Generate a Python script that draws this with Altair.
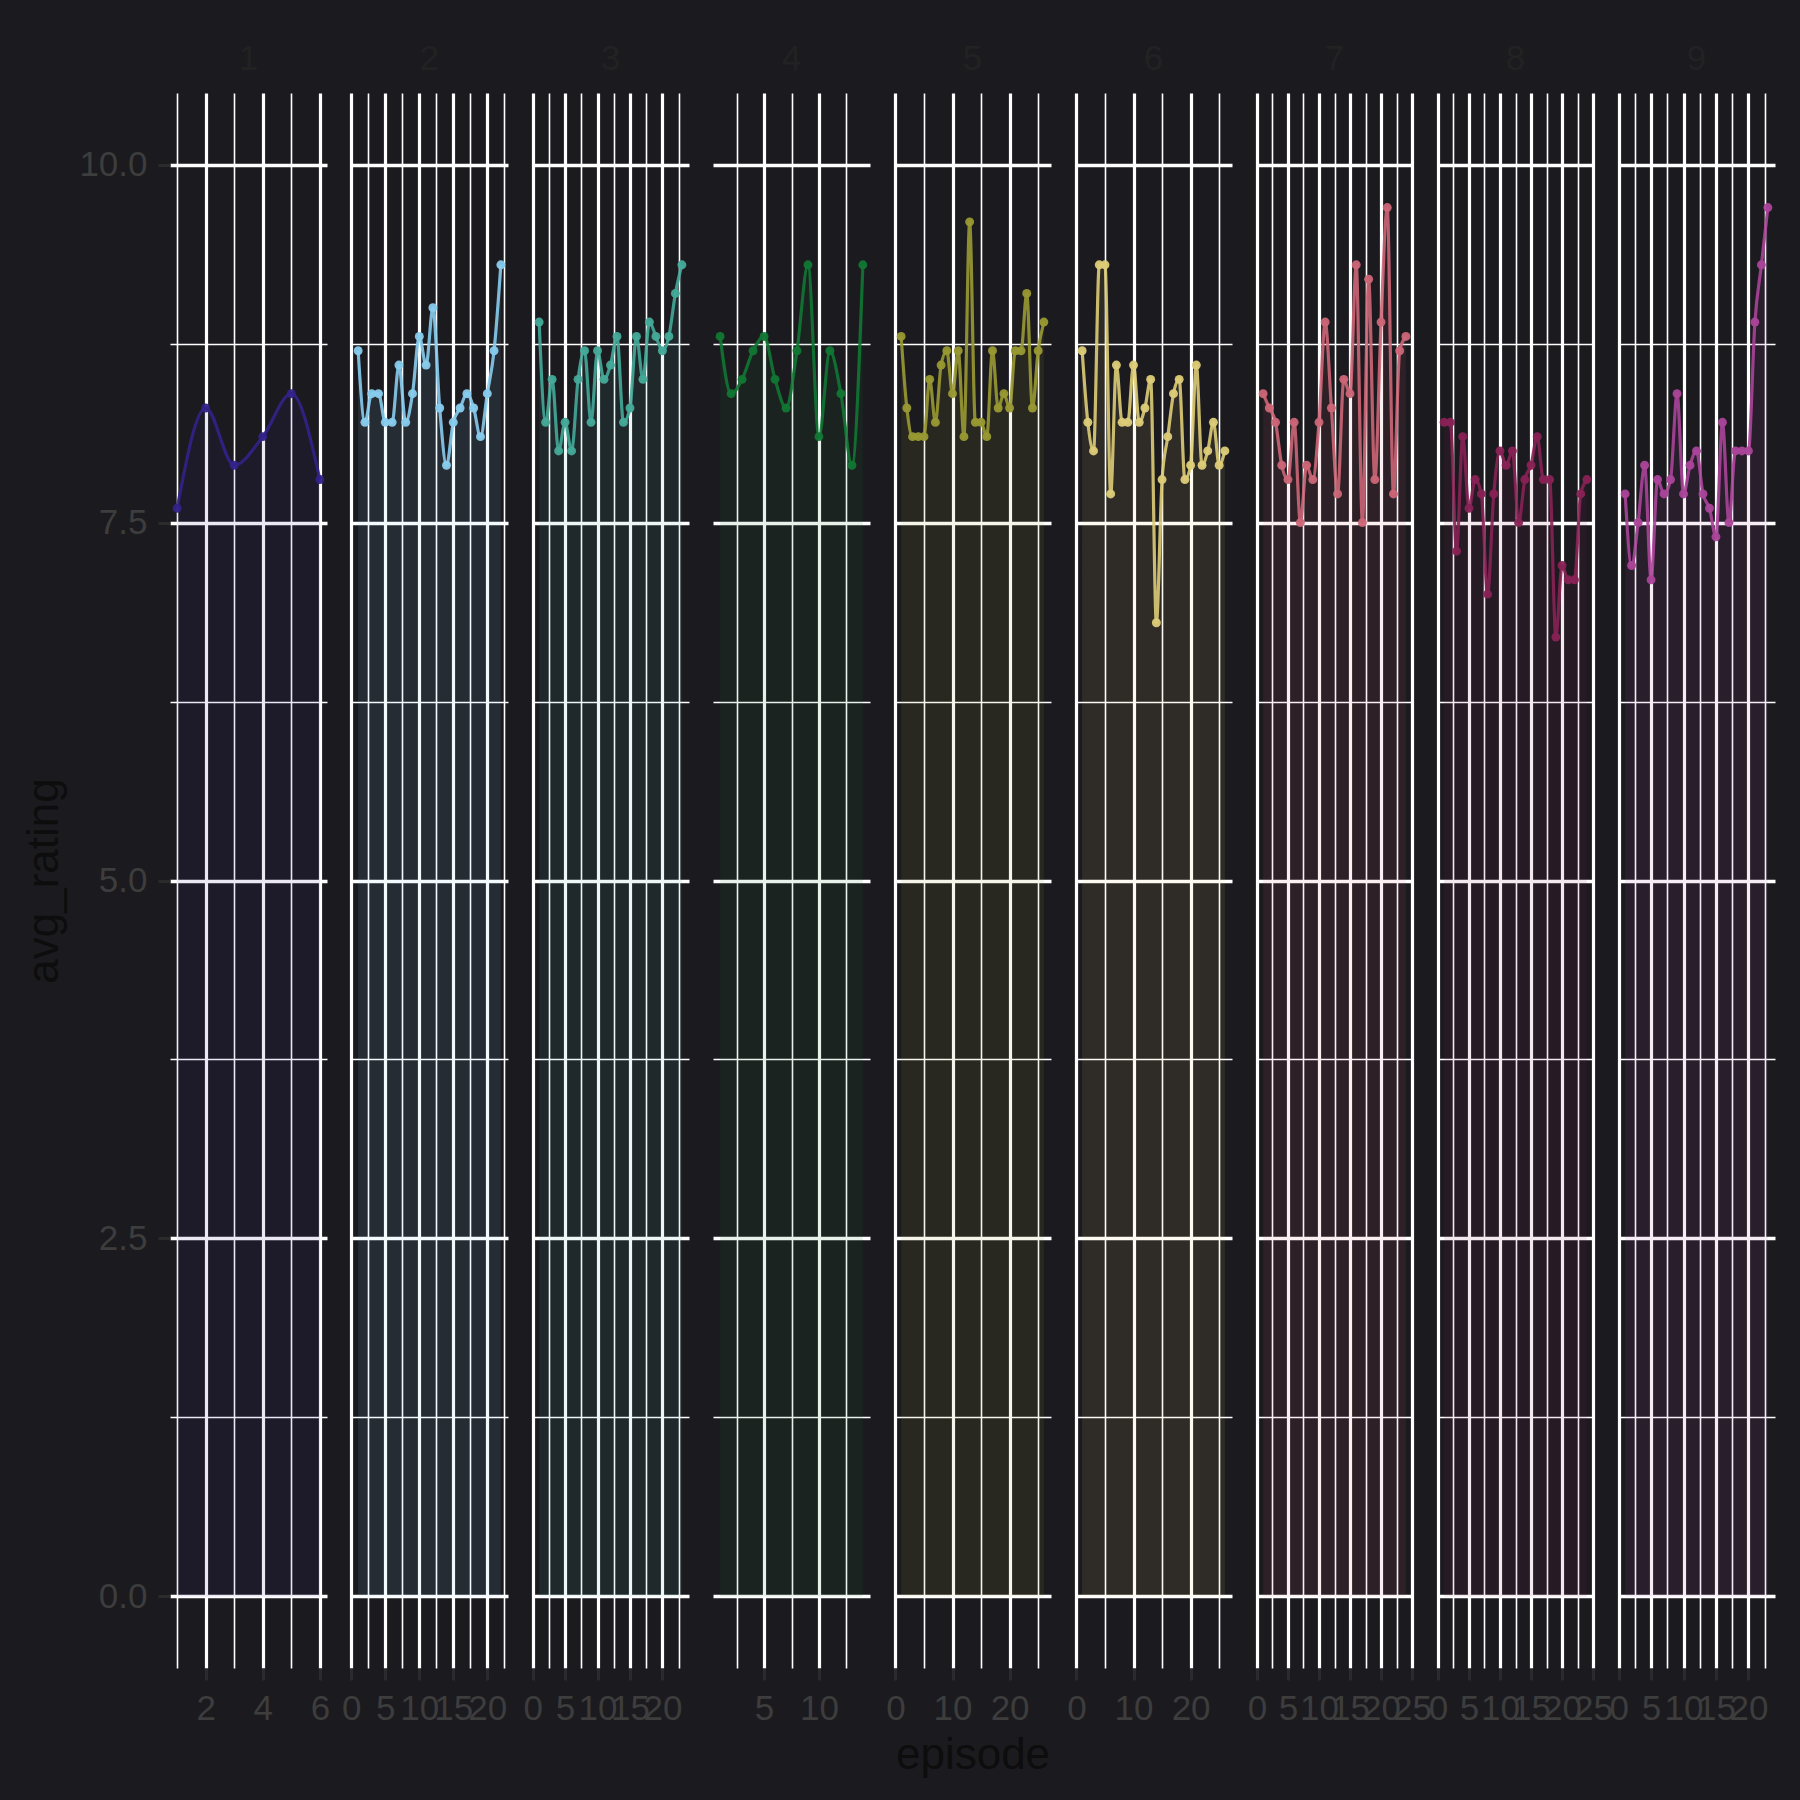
import altair as alt
import pandas as pd

# ---- data (The Office, average IMDb rating per episode, by season) ----
seasons = [1, 2, 3, 4, 5, 6, 7, 8, 9]
season_colors = ["#332288", "#88CCEE", "#44AA99", "#117733", "#999933",
                 "#DDCC77", "#CC6677", "#882255", "#AA4499"]

ratings_s1 = [7.6, 8.3, 7.9, 8.1, 8.4, 7.8]
ratings_s2 = [8.7, 8.2, 8.4, 8.4, 8.2, 8.2, 8.6, 8.2, 8.4, 8.8, 8.6, 9.0, 8.3, 7.9,
              8.2, 8.3, 8.4, 8.3, 8.1, 8.4, 8.7, 9.3]
ratings_s3 = [8.9, 8.2, 8.5, 8.0, 8.2, 8.0, 8.5, 8.7, 8.2, 8.7, 8.5, 8.6, 8.8, 8.2,
              8.3, 8.8, 8.5, 8.9, 8.8, 8.7, 8.8, 9.1, 9.3]
ratings_s4 = [8.8, 8.4, 8.5, 8.7, 8.8, 8.5, 8.3, 8.7, 9.3, 8.1, 8.7, 8.4, 7.9, 9.3]
ratings_s5 = [8.8, 8.3, 8.1, 8.1, 8.1, 8.5, 8.2, 8.6, 8.7, 8.4, 8.7, 8.1, 9.6, 8.2,
              8.2, 8.1, 8.7, 8.3, 8.4, 8.3, 8.7, 8.7, 9.1, 8.3, 8.7, 8.9]
ratings_s6 = [8.7, 8.2, 8.0, 9.3, 9.3, 7.7, 8.6, 8.2, 8.2, 8.6, 8.2, 8.3, 8.5, 6.8,
              7.8, 8.1, 8.4, 8.5, 7.8, 7.9, 8.6, 7.9, 8.0, 8.2, 7.9, 8.0]
ratings_s7 = [8.4, 8.3, 8.2, 7.9, 7.8, 8.2, 7.5, 7.9, 7.8, 8.2, 8.9, 8.3, 7.7, 8.5,
              8.4, 9.3, 7.5, 9.2, 7.8, 8.9, 9.7, 7.7, 8.7, 8.8]
ratings_s8 = [8.2, 8.2, 7.3, 8.1, 7.6, 7.8, 7.7, 7.0, 7.7, 8.0, 7.9, 8.0, 7.5, 7.8,
              7.9, 8.1, 7.8, 7.8, 6.7, 7.2, 7.1, 7.1, 7.7, 7.8]
ratings_s9 = [7.7, 7.2, 7.5, 7.9, 7.1, 7.8, 7.7, 7.8, 8.4, 7.7, 7.9, 8.0, 7.7, 7.6,
              7.4, 8.2, 7.5, 8.0, 8.0, 8.0, 8.9, 9.3, 9.7]

season_ratings = [ratings_s1, ratings_s2, ratings_s3, ratings_s4, ratings_s5,
                  ratings_s6, ratings_s7, ratings_s8, ratings_s9]
# major x-break step used by each panel's axis
x_major_steps = [2, 5, 5, 5, 10, 10, 5, 5, 5]

y_values = [0, 1.25, 2.5, 3.75, 5, 6.25, 7.5, 8.75, 10]

# ---- style ----
BG = "#1b1a1f"
FONT = "Liberation Sans"
GRID = "#ffffff"
TICK = "#2b2b2e"
LABEL = "#3d3d3d"
TITLE = "#0d0d0d"
STRIP = "#222222"
PANEL_W = 157
PANEL_H = 1575


def x_breaks(lo, hi, step):
    import math
    majors = [v for v in range(int(math.floor(lo / step)) * step, int(hi) + step + 1, step)
              if lo <= v <= hi]
    minors = []
    for m in majors:
        for c in (m - step / 2, m + step / 2):
            if lo <= c <= hi and c not in minors:
                minors.append(c)
    return sorted(majors + minors)


panels = []
for i, (season, color, vals, step) in enumerate(zip(seasons, season_colors,
                                                    season_ratings, x_major_steps)):
    n = len(vals)
    df = pd.DataFrame({"episode": list(range(1, n + 1)), "avg_rating": vals})
    pad = 0.05 * (n - 1)
    lo, hi = 1 - pad, n + pad
    major_test = f"datum.value % {step} === 0"
    x_axis = alt.Axis(
        values=x_breaks(lo, hi, step),
        format="d",
        labelExpr=f"{major_test} ? datum.label : ''",
        labelOverlap=False,
        labelFlush=False,
        labelFont=FONT, labelFontSize=35, labelColor=LABEL, labelPadding=11,
        tickSize=12, tickWidth=3, tickColor=TICK,
        tickOpacity={"condition": {"test": major_test, "value": 1}, "value": 0},
        domain=False,
        grid=True, gridColor=GRID,
        gridWidth={"condition": {"test": major_test, "value": 3.2}, "value": 1.6},
        title="episode" if season == 5 else None,
        titleFont=FONT, titleFontSize=44, titleColor=TITLE, titleFontWeight="normal",
        titlePadding=7,
    )
    y_major = "datum.value % 2.5 === 0"
    if i == 0:
        y_axis = alt.Axis(
            values=y_values, format=".1f",
            labelExpr=f"{y_major} ? datum.label : ''",
            labelFont=FONT, labelFontSize=35, labelColor=LABEL, labelPadding=11,
            labelOverlap=False, labelFlush=False,
            tickSize=12, tickWidth=3, tickColor=TICK,
            tickOpacity={"condition": {"test": y_major, "value": 1}, "value": 0},
            domain=False, grid=True, gridColor=GRID,
            gridWidth={"condition": {"test": y_major, "value": 3.4}, "value": 1.7},
            title="avg_rating", titleFont=FONT, titleFontSize=44, titleColor=TITLE,
            titleFontWeight="normal", titlePadding=12,
        )
    else:
        y_axis = alt.Axis(
            values=y_values, labels=False, ticks=False, domain=False, grid=True,
            gridColor=GRID,
            gridWidth={"condition": {"test": y_major, "value": 3.4}, "value": 1.7},
            title=None,
        )

    x_enc = alt.X("episode:Q", scale=alt.Scale(domain=[lo, hi], nice=False, zero=False),
                  axis=x_axis)
    y_enc = alt.Y("avg_rating:Q", scale=alt.Scale(domain=[-0.5, 10.5], nice=False, zero=False),
                  axis=y_axis)

    base = alt.Chart(df)
    area = base.mark_area(color=color, opacity=0.1, interpolate="monotone").encode(
        x=x_enc, y=y_enc, y2=alt.datum(0))
    line = base.mark_line(color=color, strokeWidth=3.2, opacity=0.9,
                          interpolate="monotone").encode(x=x_enc, y=y_enc)
    pts = base.mark_point(color=color, filled=True, size=80, opacity=0.95).encode(
        x=x_enc, y=y_enc)

    panel = alt.layer(area, line, pts).properties(
        width=PANEL_W, height=PANEL_H,
        title=alt.TitleParams(text=str(season), font=FONT, fontSize=35, color=STRIP,
                              fontWeight="normal", anchor="middle", offset=16),
    )
    panels.append(panel)

chart = alt.hconcat(*panels, spacing=24, bounds="flush").properties(
    background=BG,
    padding={"left": 22, "top": 42, "right": 25, "bottom": 26},
).configure_view(stroke=None, fill=None)

chart.save("out.html", embed_options={"renderer": "svg", "actions": False})
